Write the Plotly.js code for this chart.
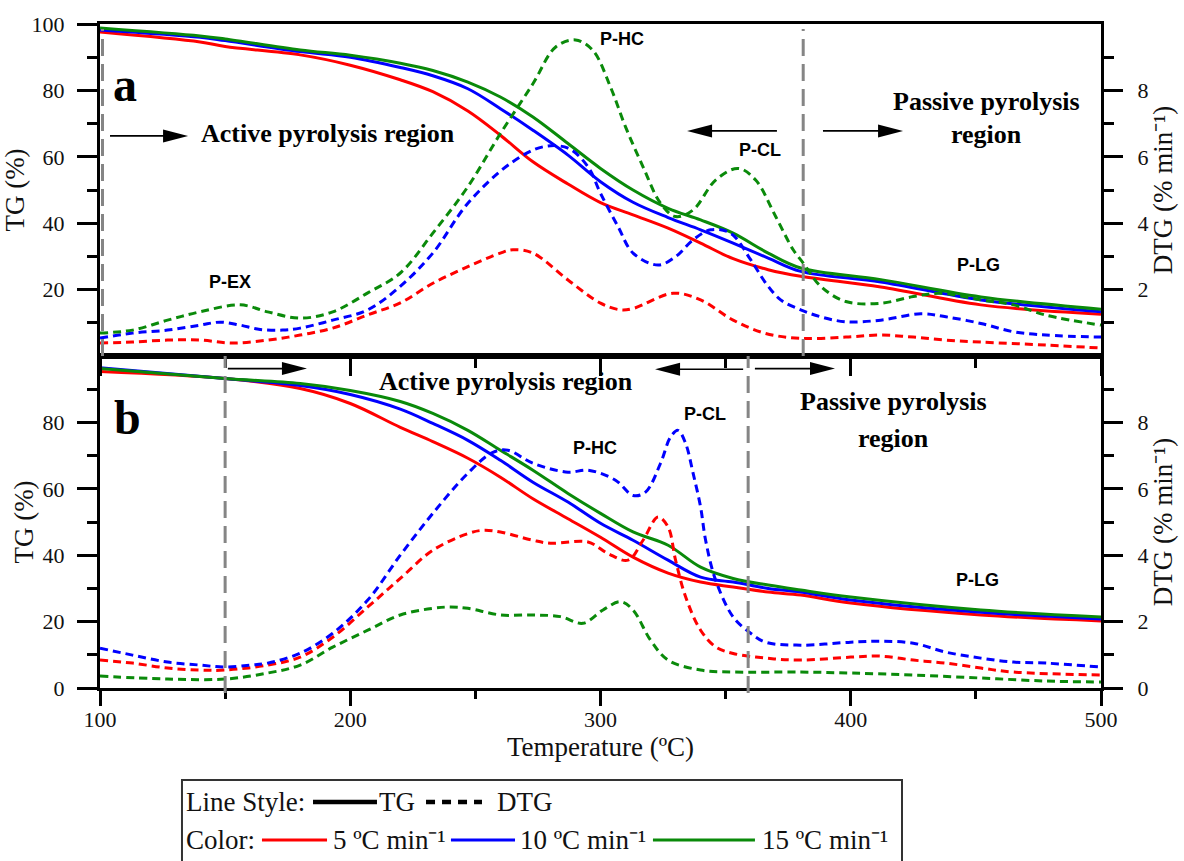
<!DOCTYPE html>
<html>
<head>
<meta charset="utf-8">
<script src="https://cdn.plot.ly/plotly-3.0.1.min.js"></script>
<style>
  html, body { margin: 0; padding: 0; background: #fff; }
  #chart { width: 1184px; height: 861px; }
</style>
</head>
<body>
<div id="chart"></div>
<script>
// ---------- (a) panel: TG curves ----------
const tempTgA = [100, 140, 150, 180, 200, 220, 233, 247, 260, 273, 287, 300, 313, 327, 340, 353, 367, 380, 412, 452, 500];
const tgA5  = [97.6, 94.6, 93.2, 90.7, 87.6, 83.2, 79.6, 73.8, 66.5, 58.5, 51.8, 46.2, 42.5, 38.5, 34.0, 29.3, 26.0, 24.0, 20.8, 15.4, 12.6];
const tgA10 = [98.2, 96.0, 95.0, 91.7, 90.0, 86.9, 84.4, 80.5, 74.5, 68.0, 60.5, 52.5, 46.3, 41.7, 38.0, 34.0, 29.5, 25.5, 22.3, 16.9, 13.3];
const tgA15 = [98.8, 96.4, 95.5, 92.2, 90.6, 88.2, 86.0, 82.5, 78.0, 72.0, 64.0, 56.5, 50.0, 44.5, 41.0, 37.0, 31.0, 26.5, 23.0, 17.8, 14.1];

// ---------- (a) panel: DTG curves ----------
const tempDtgA5 = [100, 113, 127, 140, 153, 167, 180, 193, 207, 220, 233, 247, 260, 265, 273, 287, 300, 308, 313, 329, 340, 353, 366, 380, 398, 412, 425, 438, 452, 478, 500];
const dtgA5     = [0.39, 0.42, 0.48, 0.48, 0.39, 0.48, 0.63, 0.84, 1.24, 1.60, 2.19, 2.69, 3.10, 3.20, 3.10, 2.29, 1.59, 1.39, 1.43, 1.89, 1.69, 1.08, 0.68, 0.53, 0.57, 0.63, 0.57, 0.48, 0.42, 0.33, 0.24];
const tempDtgA10 = [100, 113, 127, 140, 148, 156, 164, 173, 180, 193, 207, 220, 233, 247, 264, 277, 287, 295, 300, 307, 313, 323, 330, 337, 344, 352, 360, 366, 372, 380, 388, 398, 412, 428, 438, 452, 465, 478, 500];
const dtgA10     = [0.54, 0.69, 0.78, 0.93, 1.02, 0.93, 0.80, 0.78, 0.84, 1.08, 1.39, 2.10, 3.10, 4.60, 5.80, 6.30, 6.26, 5.70, 4.90, 3.90, 3.10, 2.74, 2.99, 3.50, 3.80, 3.70, 2.90, 2.20, 1.69, 1.39, 1.18, 1.03, 1.08, 1.27, 1.18, 0.98, 0.73, 0.63, 0.57];
const tempDtgA15 = [100, 113, 127, 140, 156, 167, 180, 193, 207, 220, 233, 247, 260, 273, 282, 290, 297, 304, 310, 317, 324, 330, 337, 346, 355, 362, 370, 377, 381, 388, 398, 412, 425, 436, 452, 465, 478, 500];
const dtgA15     = [0.69, 0.78, 1.08, 1.33, 1.54, 1.33, 1.14, 1.33, 1.90, 2.50, 3.70, 5.10, 6.70, 8.20, 9.30, 9.52, 9.20, 8.10, 6.90, 5.70, 4.60, 4.20, 4.40, 5.30, 5.65, 5.30, 4.20, 3.20, 2.80, 2.10, 1.64, 1.59, 1.79, 1.89, 1.69, 1.54, 1.23, 0.93];

// ---------- (b) panel: TG curves ----------
const tempTgB = [100, 150, 180, 200, 220, 233, 247, 260, 273, 287, 300, 313, 327, 340, 353, 367, 380, 400, 452, 500];
const tgB5  = [95.3, 93.2, 90.2, 85.7, 78.5, 74.2, 69.2, 63.5, 57.0, 51.0, 45.4, 39.4, 34.6, 31.9, 30.4, 28.9, 28.0, 25.6, 22.0, 20.2];
const tgB10 = [96.5, 93.2, 91.1, 88.4, 84.0, 79.7, 74.6, 68.6, 62.0, 56.0, 49.6, 44.5, 38.5, 33.4, 31.9, 30.0, 28.9, 26.5, 22.8, 20.8];
const tgB15 = [96.2, 93.2, 91.7, 89.6, 86.3, 82.7, 77.6, 71.6, 65.6, 58.6, 52.6, 47.0, 43.0, 36.4, 33.0, 31.0, 29.5, 27.4, 23.5, 21.4];

// ---------- (b) panel: DTG curves ----------
const tempDtgB5 = [100, 113, 127, 140, 150, 167, 180, 193, 207, 220, 233, 247, 253, 260, 273, 280, 295, 303, 311, 317, 323, 327, 330, 334, 340, 346, 353, 366, 380, 400, 412, 425, 438, 452, 465, 500];
const dtgB5     = [0.84, 0.75, 0.60, 0.54, 0.54, 0.69, 0.93, 1.53, 2.44, 3.30, 4.15, 4.65, 4.75, 4.70, 4.45, 4.36, 4.40, 4.05, 3.85, 4.45, 5.15, 4.85, 3.85, 2.75, 1.74, 1.24, 1.04, 0.90, 0.84, 0.93, 0.96, 0.84, 0.75, 0.60, 0.48, 0.39];
const tempDtgB10 = [100, 113, 127, 140, 150, 160, 167, 180, 193, 207, 220, 233, 247, 257, 263, 273, 287, 295, 306, 313, 318, 324, 328, 331, 334, 337, 340, 342, 346, 353, 360, 366, 380, 400, 412, 425, 438, 452, 465, 478, 500];
const dtgB10     = [1.20, 0.99, 0.78, 0.69, 0.63, 0.69, 0.75, 1.05, 1.65, 2.65, 4.00, 5.26, 6.47, 7.10, 7.16, 6.77, 6.50, 6.56, 6.26, 5.80, 5.90, 6.77, 7.56, 7.76, 7.37, 6.47, 5.45, 4.45, 3.25, 2.14, 1.65, 1.38, 1.29, 1.38, 1.41, 1.35, 1.08, 0.90, 0.78, 0.75, 0.63];
const tempDtgB15 = [100, 127, 150, 167, 180, 193, 207, 220, 233, 240, 247, 260, 273, 284, 293, 301, 308, 313, 320, 327, 340, 353, 380, 400, 425, 452, 478, 500];
const dtgB15     = [0.36, 0.27, 0.27, 0.45, 0.69, 1.23, 1.74, 2.20, 2.40, 2.44, 2.40, 2.20, 2.20, 2.15, 1.95, 2.35, 2.60, 2.35, 1.44, 0.84, 0.54, 0.48, 0.48, 0.45, 0.39, 0.30, 0.21, 0.18];

// Region boundaries (°C)
const boundsA = [100, 381];
const boundsB = [150, 359];

// Axis tick labels
const tempTicks = [100, 200, 300, 400, 500];
const tgTicksA = [20, 40, 60, 80, 100];
const tgTicksB = [0, 20, 40, 60, 80];
const dtgTicksA = [2, 4, 6, 8];
const dtgTicksB = [0, 2, 4, 6, 8];

const RED = '#ff0000', BLUE = '#0000ff', GREEN = '#0a8a0a', GREY = '#858585';
const SERIF = 'Liberation Serif, Times New Roman, serif';
const SANS = 'Liberation Sans, Arial, sans-serif';
const DASH = '8px,5px';
const PER_MIN = 'min\u207B\u00B9';

function curve(x, y, color, dashed, xa, ya) {
  return {
    x: x, y: y, xaxis: xa, yaxis: ya, type: 'scatter', mode: 'lines',
    line: {color: color, width: 3, dash: dashed ? DASH : 'solid', shape: 'spline', smoothing: 1},
    showlegend: false, hoverinfo: 'skip'
  };
}

const data = [
  curve(tempTgA, tgA5, RED, false, 'x2', 'y3'),
  curve(tempTgA, tgA10, BLUE, false, 'x2', 'y3'),
  curve(tempTgA, tgA15, GREEN, false, 'x2', 'y3'),
  curve(tempDtgA5, dtgA5, RED, true, 'x2', 'y4'),
  curve(tempDtgA10, dtgA10, BLUE, true, 'x2', 'y4'),
  curve(tempDtgA15, dtgA15, GREEN, true, 'x2', 'y4'),
  curve(tempTgB, tgB5, RED, false, 'x', 'y'),
  curve(tempTgB, tgB10, BLUE, false, 'x', 'y'),
  curve(tempTgB, tgB15, GREEN, false, 'x', 'y'),
  curve(tempDtgB5, dtgB5, RED, true, 'x', 'y2'),
  curve(tempDtgB10, dtgB10, BLUE, true, 'x', 'y2'),
  curve(tempDtgB15, dtgB15, GREEN, true, 'x', 'y2')
];

const tickFont = {family: SERIF, size: 22, color: '#111'};
const titleFont = {family: SERIF, size: 27, color: '#111'};

function frameAxis(extra) {
  return Object.assign({
    showline: true, linewidth: 3, linecolor: '#000', mirror: true,
    showgrid: false, zeroline: false, ticks: 'outside', tickwidth: 3, tickcolor: '#000',
    tickfont: tickFont, tickmode: 'array', fixedrange: true
  }, extra);
}
function minorTicks(vals, len) {
  return {tickmode: 'array', tickvals: vals, ticks: 'outside', ticklen: len, tickwidth: 3, tickcolor: '#000'};
}

const layout = {
  width: 1184, height: 861,
  margin: {l: 100, r: 83, t: 24, b: 173},
  font: {family: SERIF, size: 22, color: '#111'},
  paper_bgcolor: '#fff', plot_bgcolor: '#fff',
  showlegend: false,
  xaxis: frameAxis({
    domain: [0, 1], anchor: 'y', range: [100, 500], tickvals: tempTicks, ticklen: 15, ticklabelstandoff: -5,
    minor: minorTicks([150, 250, 350, 450], 8),
    title: {text: 'Temperature (ºC)', font: titleFont, standoff: 6}
  }),
  xaxis2: frameAxis({
    domain: [0, 1], anchor: 'y3', range: [100, 500], tickvals: tempTicks, ticklen: 17,
    showticklabels: false,
    minor: minorTicks([150, 250, 350, 450], 9)
  }),
  yaxis: frameAxis({
    domain: [0, 0.5], anchor: 'x', range: [0, 100], tickvals: tgTicksB, ticklen: 20, ticklabelstandoff: 8,
    minor: minorTicks([10, 30, 50, 70, 90], 10),
    title: {text: 'TG (%)', font: titleFont, standoff: 2}
  }),
  yaxis2: frameAxis({
    overlaying: 'y', side: 'right', anchor: 'x', range: [0, 10], tickvals: dtgTicksB, ticklen: 19, ticklabelstandoff: 10,
    mirror: false,
    minor: minorTicks([1, 3, 5, 7, 9], 10),
    title: {text: 'DTG (% ' + PER_MIN + ')', font: titleFont, standoff: 4}
  }),
  yaxis3: frameAxis({
    domain: [0.5, 1], anchor: 'x2', range: [0, 100], tickvals: tgTicksA, ticklen: 20, ticklabelstandoff: 8,
    minor: minorTicks([10, 30, 50, 70, 90], 10),
    title: {text: 'TG (%)', font: titleFont, standoff: 2}
  }),
  yaxis4: frameAxis({
    overlaying: 'y3', side: 'right', anchor: 'x2', range: [0, 10], tickvals: dtgTicksA, ticklen: 19, ticklabelstandoff: 10,
    mirror: false,
    minor: minorTicks([1, 3, 5, 7, 9], 10),
    title: {text: 'DTG (% ' + PER_MIN + ')', font: titleFont, standoff: 4}
  }),
  shapes: [],
  annotations: []
};

// Region boundary markers
function boundary(x, yref, y0, y1) {
  return {type: 'line', xref: 'x', yref: yref, x0: x, x1: x, y0: y0, y1: y1,
          line: {color: GREY, width: 3, dash: '17px,8px'}, layer: 'above'};
}
layout.shapes.push(boundary(boundsA[0] + 1, 'y3 domain', 0, 0.985));
layout.shapes.push(boundary(boundsA[1], 'y3 domain', 0, 0.985));
layout.shapes.push(boundary(boundsB[0], 'y domain', -0.015, 1));
layout.shapes.push(boundary(boundsB[1], 'y domain', -0.015, 1));

// Direction arrows: thin shaft plus filled head
function arrow(xTail, xHead, y, xref, yref) {
  const dir = xHead > xTail ? 1 : -1;
  layout.shapes.push({type: 'line', xref: xref, yref: yref, x0: xTail, x1: xHead - dir * 4, y0: y, y1: y,
                      line: {color: '#000', width: 1.6}});
  layout.shapes.push({type: 'path', xref: xref, yref: yref, xsizemode: 'pixel', ysizemode: 'pixel',
                      xanchor: xHead, yanchor: y,
                      path: 'M0,0 L' + (-25 * dir) + ',6.5 L' + (-25 * dir) + ',-6.5 Z',
                      fillcolor: '#000', line: {width: 0}});
}
arrow(104, 135.2, 66.3, 'x2', 'y3');
arrow(370.5, 334.6, 67.8, 'x2', 'y3');
arrow(388.9, 420.9, 67.8, 'x2', 'y3');
arrow(151.1, 182.7, 96.2, 'x', 'y');
arrow(357, 321.8, 96.0, 'x', 'y');
arrow(361.7, 393.7, 96.2, 'x', 'y');

// Text labels
function label(text, x, y, xref, yref, font) {
  layout.annotations.push({text: text, x: x, y: y, xref: xref, yref: yref, showarrow: false,
                           xanchor: 'center', yanchor: 'middle', font: font});
}
const panelFont = {family: SERIF, size: 48, color: '#000', weight: 'bold'};
const regionFont = {family: SERIF, size: 26, color: '#000', weight: 'bold'};
const peakFont = {family: SANS, size: 18, color: '#000', weight: 'bold'};

label('a', 110, 81.9, 'x2', 'y3', panelFont);
label('Active pyrolysis region', 191.3, 66.9, 'x2', 'y3', regionFont);
label('Passive pyrolysis', 454.4, 76.8, 'x2', 'y3', regionFont);
label('region', 454.4, 66.6, 'x2', 'y3', regionFont);
label('P-HC', 308.6, 95.5, 'x2', 'y3', peakFont);
label('P-CL', 363.7, 62.0, 'x2', 'y3', peakFont);
label('P-EX', 152.0, 22.3, 'x2', 'y3', peakFont);
label('P-LG', 450.9, 27.4, 'x2', 'y3', peakFont);

label('b', 110.8, 81.5, 'x', 'y', panelFont);
label('Active pyrolysis region', 262.2, 92.3, 'x', 'y', regionFont);
label('Passive pyrolysis', 416.9, 86.3, 'x', 'y', regionFont);
label('region', 416.9, 75.2, 'x', 'y', regionFont);
label('P-HC', 297.8, 72.2, 'x', 'y', peakFont);
label('P-CL', 341.8, 82.4, 'x', 'y', peakFont);
label('P-LG', 450.5, 32.5, 'x', 'y', peakFont);

// Key box below the plot (paper coordinates)
const keyFont = {family: SERIF, size: 27, color: '#111'};
layout.shapes.push({type: 'rect', xref: 'paper', yref: 'paper', x0: 0.0819, x1: 0.8012, y0: -0.2830, y1: -0.1386,
                    line: {color: '#333', width: 2}, fillcolor: 'rgba(0,0,0,0)'});
function keyLine(x0, x1, y, color, dash, width) {
  layout.shapes.push({type: 'line', xref: 'paper', yref: 'paper', x0: x0, x1: x1, y0: y, y1: y,
                      line: {color: color, width: width, dash: dash}});
}
function keyText(text, x, y) {
  layout.annotations.push({text: text, x: x, y: y, xref: 'paper', yref: 'paper', showarrow: false,
                           xanchor: 'left', yanchor: 'middle', font: keyFont});
}
const row1 = -0.1717, row2 = -0.2289;
keyText('Line Style:', 0.0839, row1);
keyLine(0.2128, 0.2767, row1, '#000', 'solid', 4.5);
keyText('TG', 0.2767, row1);
keyLine(0.3257, 0.3816, row1, '#000', '9px,7px', 4.5);
keyText('DTG', 0.3946, row1);
keyText('Color:', 0.0839, row2);
keyLine(0.1618, 0.2268, row2, RED, 'solid', 3);
keyText('5 ºC ' + PER_MIN, 0.2308, row2);
keyLine(0.3506, 0.4146, row2, BLUE, 'solid', 3);
keyText('10 ºC ' + PER_MIN, 0.4176, row2);
keyLine(0.5524, 0.6543, row2, GREEN, 'solid', 3);
keyText('15 ºC ' + PER_MIN, 0.6593, row2);

Plotly.newPlot('chart', data, layout, {staticPlot: true, displayModeBar: false});
</script>
</body>
</html>
